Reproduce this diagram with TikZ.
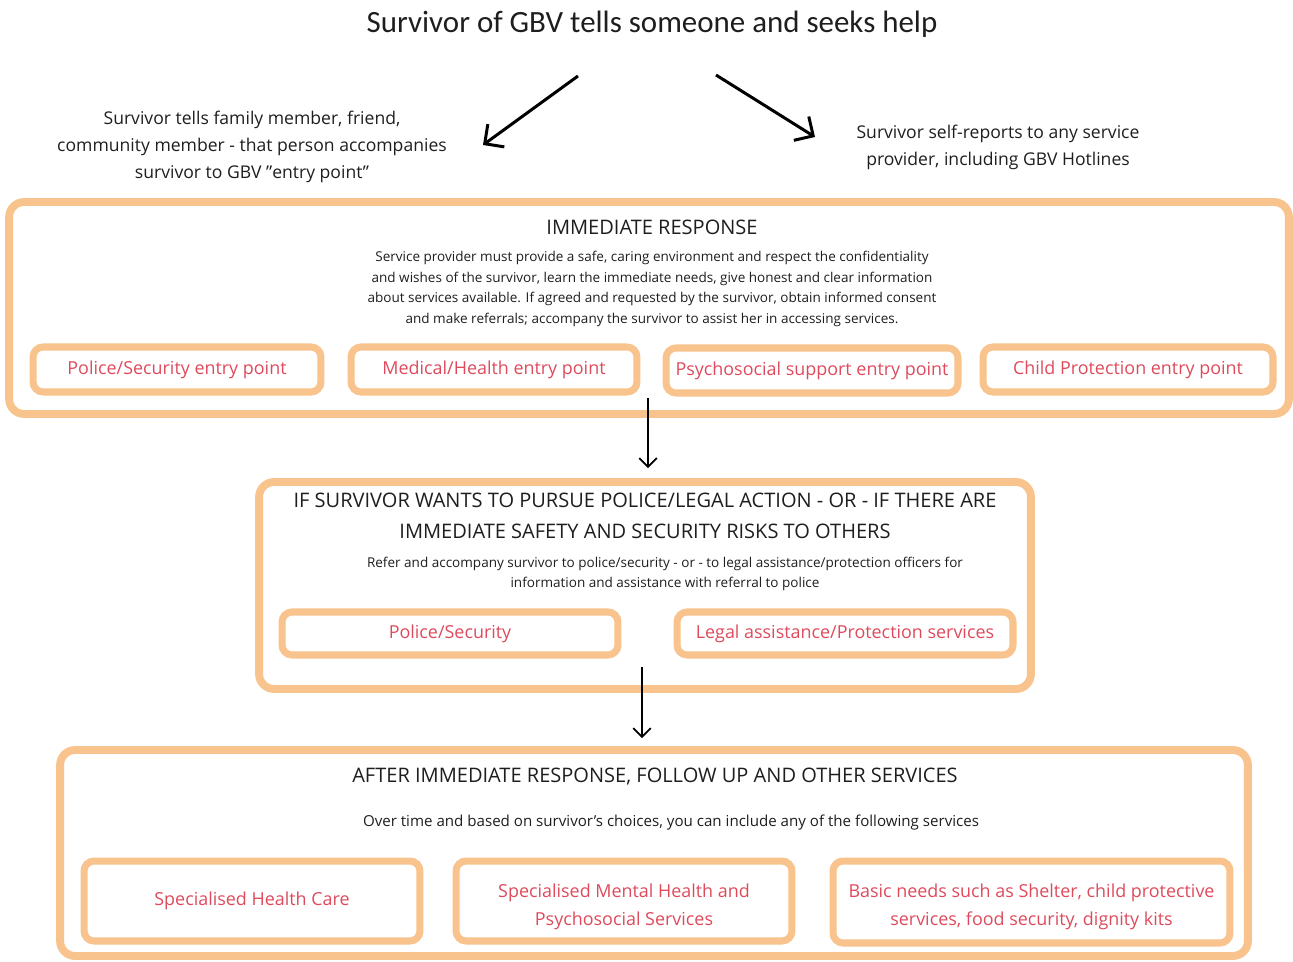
\documentclass[tikz,border=0pt]{standalone}
\usepackage{fontspec}
\setmainfont{Open Sans}
\newfontfamily\titlefont{Carlito}
\usetikzlibrary{arrows.meta,positioning,calc}
\definecolor{boxorange}{RGB}{248,195,140}
\definecolor{entryred}{RGB}{222,74,92}
\definecolor{inkgray}{RGB}{30,30,30}

\tikzset{
  bigbox/.style={draw=boxorange, line width=4.5pt, rounded corners=0.3cm, inner sep=0pt},
  entrybox/.style={draw=boxorange, line width=4pt, rounded corners=0.2cm, text=entryred,
    font=\fontsize{10.2}{16}\selectfont, align=center, inner sep=0pt},
  entrylabel/.style={text=entryred, font=\fontsize{10.2}{16}\selectfont, align=center},
  heading/.style={text=inkgray, font=\fontsize{11.4}{17.6}\selectfont, align=center},
  smalltext/.style={text=inkgray, font=\fontsize{7.7}{11.7}\selectfont, align=center},
  sidetext/.style={text=inkgray, font=\fontsize{10}{15.4}\selectfont, align=center},
  bigarrow/.style={line width=1.7pt, -{Straight Barb[length=8pt,width=16pt]}},
  downarrow/.style={line width=1pt, -{Straight Barb[length=5pt,width=10pt]}},
}

\begin{document}
\begin{tikzpicture}[x=0.02cm, y=-0.02cm]
  \useasboundingbox (0,0) rectangle (1293,962);

  % top part
  \node[text=inkgray, font=\titlefont\fontsize{17.6}{19}\selectfont] (title) at (652,24)
    {Survivor of GBV tells someone and seeks help};
  \node[sidetext] (family) at (252,147)
    {Survivor tells family member, friend,\\community member - that person accompanies\\survivor to GBV \symbol{34}entry point\symbol{34}};
  \node[sidetext] (selfrep) at (998,147)
    {Survivor self-reports to any service\\provider, including GBV Hotlines};

  \coordinate (l1) at (578,76);
  \coordinate (l2) at (483,145);
  \coordinate (r1) at (716,75);
  \coordinate (r2) at (815,137);
  \draw[bigarrow] (l1) -- (l2);
  \draw[bigarrow] (r1) -- (r2);

  % immediate response
  \node[bigbox, minimum width=25.6cm, minimum height=4.24cm] (resp) at (649,308) {};
  \node[heading] (resptitle) at (652,227) {IMMEDIATE RESPONSE};
  \node[smalltext] (resptext) at (652,289)
    {Service provider must provide a safe, caring environment and respect the confidentiality\\
     and wishes of the survivor, learn the immediate needs, give honest and clear information\\
     about services available. If agreed and requested by the survivor, obtain informed consent\\
     and make referrals; accompany the survivor to assist her in accessing services.};
  \node[entrybox, minimum width=5.76cm, minimum height=0.9cm] (police) at (177,369.5) {Police/Security entry point};
  \node[entrybox, minimum width=5.72cm, minimum height=0.9cm] (medical) at (494,369.5) {Medical/Health entry point};
  \node[entrybox, minimum width=5.84cm, minimum height=0.9cm] (psycho) at (812,370.5) {Psychosocial support entry point};
  \node[entrybox, minimum width=5.8cm, minimum height=0.9cm] (child) at (1128,369.5) {Child Protection entry point};

  % police / legal action
  \node[bigbox, minimum width=15.44cm, minimum height=4.14cm] (legal) at (645,585.5) {};
  \node[heading] (legaltitle) at (645,516)
    {IF SURVIVOR WANTS TO PURSUE POLICE/LEGAL ACTION - OR - IF THERE ARE\\
     IMMEDIATE SAFETY AND SECURITY RISKS TO OTHERS};
  \node[smalltext] (legaltext) at (665,574)
    {Refer and accompany survivor to police/security - or - to legal assistance/protection officers for\\
     information and assistance with referral to police};
  \node[entrybox, minimum width=6.72cm, minimum height=0.86cm] (polsec) at (450,633.5) {Police/Security};
  \node[entrybox, minimum width=6.72cm, minimum height=0.86cm] (legprot) at (845,633.5) {Legal assistance/Protection services};

  % follow up
  \node[bigbox, minimum width=23.76cm, minimum height=4.12cm] (after) at (654,853) {};
  \node[heading] (aftertitle) at (655,777) {AFTER IMMEDIATE RESPONSE, FOLLOW UP AND OTHER SERVICES};
  \node[smalltext, font=\fontsize{8.6}{11.7}\selectfont] (aftertext) at (671,823)
    {Over time and based on survivor's choices, you can include any of the following services};
  \node[entrybox, minimum width=6.72cm, minimum height=1.6cm] (health) at (252,901) {Specialised Health Care};
  \node[entrybox, minimum width=6.72cm, minimum height=1.6cm] (mental) at (624,901) {};
  \node[entrylabel] (mentaltext) at ([yshift=-3.4pt]mental.center)
    {Specialised Mental Health and\\Psychosocial Services};
  \node[entrybox, minimum width=7.94cm, minimum height=1.64cm] (basic) at (1031.5,902) {};
  \node[entrylabel] (basictext) at ([yshift=-2.8pt]basic.center)
    {Basic needs such as Shelter, child protective\\services, food security, dignity kits};

  \coordinate (a1) at (648,398);
  \coordinate (a2) at (642,667);
  \draw[downarrow, shorten >=0.2cm] (a1) -- (a1 |- legal.north);
  \draw[downarrow, shorten >=0.16cm] (a2) -- (a2 |- after.north);
\end{tikzpicture}
\end{document}
